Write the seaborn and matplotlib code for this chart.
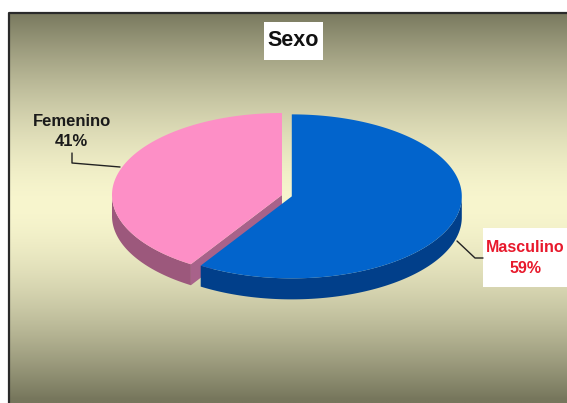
import numpy as np
import matplotlib
matplotlib.use("Agg")
import matplotlib.pyplot as plt
from matplotlib.patches import Polygon, Rectangle
import seaborn as sns

# ---- data ----
categories = ["Masculino", "Femenino"]
values = [59, 41]
title = "Sexo"

sns.set_theme(style="white")
plt.rcParams['font.family'] = ['Liberation Sans', 'DejaVu Sans']

W, H = 567, 403
fig = plt.figure(figsize=(5.67, 4.03), dpi=100)
fig.patch.set_facecolor("white")
ax = fig.add_axes([0, 0, 1, 1])
ax.set_xlim(0, W)
ax.set_ylim(H, 0)
ax.axis("off")

# ---- background gradient (chart area) ----
x0, y0 = 9, 13
ys = np.linspace(y0, H, 300)
xs = np.linspace(x0, W, 300)
YY, XX = np.meshgrid(ys, xs, indexing="ij")
t = np.clip(np.abs(YY - 205) / 195.0, 0, 1)
t = t ** 1.6
light = np.array([248, 246, 206]) / 255.0
dark = np.array([118, 118, 92]) / 255.0
img = light[None, None, :] * (1 - t[..., None]) + dark[None, None, :] * t[..., None]
ax.imshow(img, extent=(x0, W, H, y0), aspect="auto", zorder=0, interpolation="bilinear")
ax.plot([x0, x0, W], [H, y0, y0], color="#2a2a2a", lw=1.6, zorder=1, solid_capstyle="butt")

# ---- 3D pie ----
cx, cy, a, b, h = 282, 195, 170, 82, 21
explode = [0.06, 0.0]
top_colors = ["#0264cc", "#fd8fc6"]
side_colors = ["#013f8a", "#9c587c"]
wall_colors = ["#024a9c", "#a8628a"]

fracs = np.array(values, dtype=float) / np.sum(values)


def ell(theta, ox, oy, dy=0.0):
    th = np.radians(np.atleast_1d(theta))
    return np.column_stack([ox + a * np.cos(th), oy - b * np.sin(th) + dy])


angle = 90.0
slices = []
for f in fracs:
    t0 = angle - 360 * f
    slices.append((t0, angle))
    angle = t0

# draw back slices first: pink (index 1), then blue (index 0)
order = [1, 0]
for i in order:
    t0, t1 = slices[i]
    mid = np.radians((t0 + t1) / 2)
    ox = cx + explode[i] * a * np.cos(mid)
    oy = cy - explode[i] * b * np.sin(mid)
    # walls
    for edge, nrm in ((t0, t0 - 90), (t1, t1 + 90)):
        if np.sin(np.radians(nrm)) < -0.05:
            p = ell(edge, ox, oy)[0]
            poly = [(ox, oy), tuple(p), (p[0], p[1] + h), (ox, oy + h)]
            ax.add_patch(Polygon(poly, closed=True, facecolor=wall_colors[i],
                                 edgecolor="none", zorder=2))
    # outer side (front-facing arc)
    for k in range(-2, 3):
        lo, hi = max(t0, k * 360 - 180), min(t1, k * 360)
        if hi > lo:
            th = np.linspace(lo, hi, 120)
            top = ell(th, ox, oy)
            bot = ell(th[::-1], ox, oy, h)
            ax.add_patch(Polygon(np.vstack([top, bot]), closed=True,
                                 facecolor=side_colors[i], edgecolor="none", zorder=2))
    # top face
    th = np.linspace(t0, t1, 240)
    pts = np.vstack([[ox, oy], ell(th, ox, oy)])
    ax.add_patch(Polygon(pts, closed=True, facecolor=top_colors[i],
                         edgecolor="none", zorder=3))

# ---- title ----
ax.add_patch(Rectangle((264, 22), 59, 38, facecolor="white", edgecolor="none", zorder=4))
ax.text(293.5, 40, title, ha="center", va="center", fontsize=15.5,
        fontweight="bold", color="#111111", zorder=5)

# ---- labels ----
ax.plot([72, 72, 120], [153, 163, 167], color="#222222", lw=1.0, zorder=4)
ax.text(71.5, 131.5, f"{categories[1]}\n{values[1]}%", ha="center", va="center",
        fontsize=12, fontweight="bold", color="#1a1a1a", linespacing=1.35, zorder=5)

ax.add_patch(Rectangle((483, 228), 90, 59, facecolor="white", edgecolor="none", zorder=4))
ax.plot([457, 475, 483], [241, 258, 258], color="#222222", lw=1.0, zorder=4)
ax.text(525.5, 258, f"{categories[0]}\n{values[0]}%", ha="center", va="center",
        fontsize=11.5, fontweight="bold", color="#e8192c", linespacing=1.5, zorder=5)

fig.savefig("out.png", dpi=100, facecolor="white")
